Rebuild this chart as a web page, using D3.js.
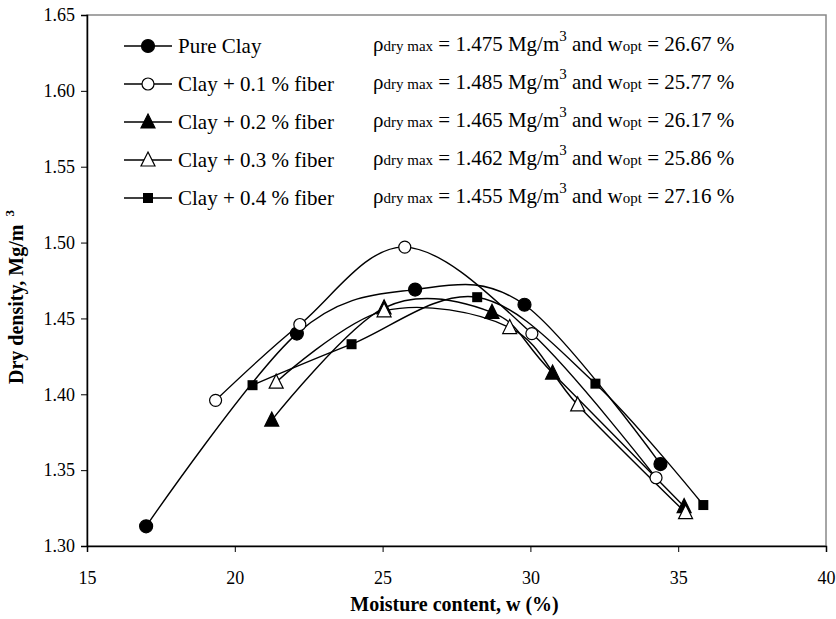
<!DOCTYPE html>
<html>
<head>
<meta charset="utf-8">
<script src="https://cdn.jsdelivr.net/npm/d3@7"></script>
<style>
  body { margin: 0; background: #fff; }
  svg text { font-family: 'Liberation Serif', 'DejaVu Serif', serif; }
</style>
</head>
<body>
<svg width="836" height="619"></svg>
<script>
// data
const seriesNames = ['Pure Clay', 'Clay + 0.1 % fiber', 'Clay + 0.2 % fiber', 'Clay + 0.3 % fiber', 'Clay + 0.4 % fiber'];
const markers = ['circleFill', 'circleOpen', 'triFill', 'triOpen', 'square'];

const wPure = [17.0, 22.1, 26.1, 29.8, 34.4];
const rhoPure = [1.313, 1.440, 1.469, 1.459, 1.354];
const w01 = [19.35, 22.2, 25.75, 30.05, 34.25];
const rho01 = [1.396, 1.446, 1.497, 1.440, 1.345];
const w02 = [21.25, 25.05, 28.7, 30.75, 35.2];
const rho02 = [1.383, 1.457, 1.454, 1.414, 1.326];
const w03 = [21.4, 25.05, 29.3, 31.6, 35.25];
const rho03 = [1.408, 1.455, 1.444, 1.393, 1.322];
const w04 = [20.6, 23.95, 28.2, 32.2, 35.85];
const rho04 = [1.406, 1.433, 1.464, 1.407, 1.327];

const rhoMax = ['1.475', '1.485', '1.465', '1.462', '1.455'];
const wOpt = ['26.67', '25.77', '26.17', '25.86', '27.16'];

const xTicks = [15, 20, 25, 30, 35, 40];
const yTicks = [1.30, 1.35, 1.40, 1.45, 1.50, 1.55, 1.60, 1.65];

const series = [
  [wPure, rhoPure], [w01, rho01], [w02, rho02], [w03, rho03], [w04, rho04]
].map((s, i) => ({
  name: seriesNames[i],
  marker: markers[i],
  points: s[0].map((w, j) => ({ w: w, rho: s[1][j] }))
}));

const svg = d3.select('svg');
const margin = { top: 15, right: 10, bottom: 73, left: 87 };
const width = 836 - margin.left - margin.right;
const height = 619 - margin.top - margin.bottom;

const g = svg.append('g')
  .attr('transform', `translate(${margin.left},${margin.top})`);

const xScale = d3.scaleLinear().domain([15, 40]).range([0, width]);
const yScale = d3.scaleLinear().domain([1.30, 1.65]).range([height, 0]);

// plot border (top/right in grey)
g.append('rect')
  .attr('x', 0).attr('y', 0)
  .attr('width', width).attr('height', height)
  .attr('fill', 'none')
  .attr('stroke', '#888')
  .attr('stroke-width', 1.5);

// axes
const xAxis = d3.axisBottom(xScale).tickValues(xTicks).tickSize(6).tickPadding(19).tickFormat(d3.format('d'));
const xAxisG = g.append('g').attr('transform', `translate(0,${height})`).call(xAxis);
const yAxis = d3.axisLeft(yScale).tickValues(yTicks).tickSize(6).tickPadding(6).tickFormat(d3.format('.2f'));
const yAxisG = g.append('g').call(yAxis);

[xAxisG, yAxisG].forEach(a => {
  a.attr('font-family', null).attr('font-size', null);
  a.select('.domain').attr('stroke', '#000').attr('stroke-width', 1.5);
  a.selectAll('.tick line').attr('stroke', '#000').attr('stroke-width', 1);
  a.selectAll('.tick text')
    .style('font-size', '18px')
    .attr('fill', '#000');
});

// axis titles
svg.append('text')
  .attr('x', margin.left + width / 2 - 2)
  .attr('y', 611)
  .attr('text-anchor', 'middle')
  .style('font-size', '20px')
  .attr('font-weight', 'bold')
  .text('Moisture content, w (%)');

const yTitle = svg.append('text')
  .attr('transform', `translate(23, ${margin.top + 282})rotate(-90)`)
  .attr('text-anchor', 'middle')
  .style('font-size', '20px')
  .attr('font-weight', 'bold');
yTitle.append('tspan').text('Dry density, Mg/m ');
yTitle.append('tspan').style('font-size', '13px').attr('dx', 3).attr('dy', -9).text('3');

// marker drawing
function drawMarker(sel, type, x, y) {
  if (type === 'circleFill' || type === 'circleOpen') {
    sel.append('circle')
      .attr('cx', x).attr('cy', y)
      .attr('r', type === 'circleFill' ? 6.5 : 6)
      .attr('fill', type === 'circleFill' ? '#000' : '#fff')
      .attr('stroke', '#000')
      .attr('stroke-width', 1.2);
  } else if (type === 'triFill' || type === 'triOpen') {
    const s = 7;
    sel.append('path')
      .attr('d', `M${x},${y - s - 1}L${x + s},${y + s - 1}L${x - s},${y + s - 1}Z`)
      .attr('fill', type === 'triFill' ? '#000' : '#fff')
      .attr('stroke', '#000')
      .attr('stroke-width', 1.2);
  } else {
    sel.append('rect')
      .attr('x', x - 5).attr('y', y - 5)
      .attr('width', 10).attr('height', 10)
      .attr('fill', '#000');
  }
}

// smoothed lines like Excel
const line = d3.line()
  .x(d => xScale(d.w))
  .y(d => yScale(d.rho))
  .curve(d3.curveCardinal.tension(0));

series.forEach(s => {
  g.append('path')
    .datum(s.points)
    .attr('d', line)
    .attr('fill', 'none')
    .attr('stroke', '#000')
    .attr('stroke-width', 1.4);
});

series.forEach(s => {
  const mg = g.append('g');
  s.points.forEach(p => drawMarker(mg, s.marker, xScale(p.w), yScale(p.rho)));
});

// legend
const legendG = svg.append('g').attr('transform', 'translate(124, 46)');
const rowH = 38;
series.forEach((s, i) => {
  const row = legendG.append('g').attr('transform', `translate(0, ${i * rowH})`);
  row.append('line')
    .attr('x1', 0).attr('x2', 48)
    .attr('y1', 0).attr('y2', 0)
    .attr('stroke', '#000')
    .attr('stroke-width', 1.4);
  drawMarker(row, s.marker, 24, 0);
  row.append('text')
    .attr('x', 54)
    .attr('y', 7)
    .style('font-size', '21px')
    .text(s.name);

  // rho / w annotation
  const t = row.append('text')
    .attr('x', 249)
    .attr('y', 5)
    .style('font-size', '21px');
  t.append('tspan').text('ρ');
  t.append('tspan').style('font-size', '15px').text('dry max');
  t.append('tspan').text(' = ' + rhoMax[i] + ' Mg/m');
  t.append('tspan').style('font-size', '15px').attr('dy', -10).text('3');
  t.append('tspan').attr('dy', 10).text(' and w');
  t.append('tspan').style('font-size', '15px').text('opt');
  t.append('tspan').text(' = ' + wOpt[i] + ' %');
});
</script>
</body>
</html>
